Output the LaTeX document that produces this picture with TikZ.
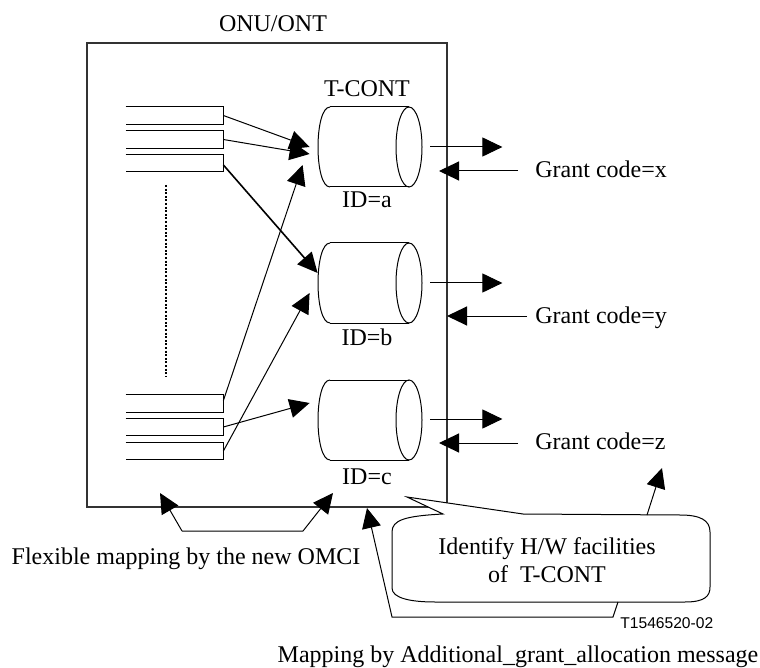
\documentclass[tikz,border=0pt]{standalone}
\usepackage{fontspec}
\setmainfont{Liberation Serif}
\newfontfamily\codesans{Liberation Sans}
\usetikzlibrary{arrows.meta,calc}
\newcommand\tcyl[2]{%
  \node[cylnode] (#1) at (370,#2) {};
  \draw[thinline] (330,#2-40) -- (409,#2-40);
  \draw[thinline] (330,#2+40) -- (409,#2+40);
  \draw[thinline] (330,#2-40) .. controls (314,#2-40) and (314,#2+40) .. (330,#2+40);
  \draw[thinline] (409,#2) ellipse [x radius=13, y radius=40];
}
\begin{document}
\begin{tikzpicture}[x=0.5pt,y=-0.5pt,
  font=\fontsize{12}{14}\selectfont,
  thinline/.style={line width=0.5pt},
  arr/.style={line width=0.5pt,-{Triangle[length=10pt,width=9.5pt]}},
  queue/.style={draw=none,inner sep=0,minimum width=48.5pt,minimum height=8.5pt},
  cylnode/.style={draw=none,inner sep=0,minimum width=52pt,minimum height=40pt},
  lbl/.style={inner sep=0}]
\useasboundingbox (0,0) rectangle (760,668);

% outer box
\node[draw=black!80, line width=0.6pt, minimum width=180pt, minimum height=232pt, inner sep=0] (onu) at (267,275) {};
\node[lbl, anchor=base] (onut) at (273,32) {ONU/ONT};

% queues
\node[queue] (q1) at (174.5,115.5) {};
\node[queue] (q2) at (174.5,139.5) {};
\node[queue] (q3) at (174.5,163) {};
\node[queue] (q4) at (174.5,403.5) {};
\node[queue] (q5) at (174.5,427) {};
\node[queue] (q6) at (174.5,451) {};
\foreach \q in {q1,q2,q3,q4,q5,q6}
  \draw[thinline] (\q.north west) -- (\q.north east) -- (\q.south east) -- (\q.south west);

% dotted line
\coordinate (d1) at (166,185);
\coordinate (d2) at (166,377);
\draw[line width=1pt, dash pattern=on 1pt off 0.8pt] (d1) -- (d2);

% T-CONT cylinders
\tcyl{cA}{147}
\tcyl{cB}{283}
\tcyl{cC}{420}
\node[lbl, anchor=base] (tc) at (367,97) {T-CONT};
\node[lbl, anchor=base] (ida) at (367,208) {ID=a};
\node[lbl, anchor=base] (idb) at (367,345) {ID=b};
\node[lbl, anchor=base] (idc) at (367,484) {ID=c};

% queue -> T-CONT arrows
\draw[arr] (q1.east) -- ($(cA.west)+(-8,0)$);
\draw[arr] (q2.east) -- ($(cA.west)+(-8,7)$);
\draw[arr, line width=0.8pt] ($(q3.east)+(0,2)$) -- ($(cB.west)+(0,-10)$);
\draw[arr] ($(q4.east)+(0,-3)$) -- ($(cA.west)+(-15,18)$);
\draw[arr] (q5.east) -- ($(cC.west)+(-8,-17)$);
\draw[arr] (q6.east) -- ($(cB.west)+(-8,10)$);

% outgoing arrows
\draw[arr] ($(cA.east)+(8,0)$) -- ++(72,0);
\draw[arr] ($(cB.east)+(8,0)$) -- ++(72,0);
\draw[arr] ($(cC.east)+(8,-1)$) -- ++(72,0);

% grant codes
\node[lbl, anchor=base west] (gx) at (535,178) {Grant code=x};
\node[lbl, anchor=base west] (gy) at (535,323) {Grant code=y};
\node[lbl, anchor=base west] (gz) at (535,449) {Grant code=z};
\draw[arr] ($(gx.base west)+(-17,-7)$) -- ++(-79,0);
\draw[arr] ($(gy.base west)+(-8,-7)$) -- ++(-80,0);
\draw[arr] ($(gz.base west)+(-17,-6)$) -- ++(-79,0);

% flexible mapping bracket
\coordinate (fb1) at (182,531);
\coordinate (fb2) at (303,531);
\coordinate (ft1) at (160,493);
\coordinate (ft2) at (333,493);
\draw[arr] (fb1) -- (ft1);
\draw[arr] (fb1) -- (fb2) -- (ft2);
\node[lbl, anchor=base] (flex) at (186,564) {Flexible mapping by the new OMCI};

% callout
\draw[thinline, fill=white] (443,514) .. controls (405,516) and (392,520) .. (392,532)
  -- (392,588) .. controls (392,598) and (410,602) .. (435,602)
  -- (685,602) .. controls (705,602) and (710,596) .. (710,587)
  -- (710,532) .. controls (710,520) and (700,515) .. (680,515)
  -- (523,514) -- (407,497) -- cycle;
\node[lbl, align=center] (idf) at (547,563) {\strut Identify H/W facilities\\\strut of\ \ T-CONT};
\coordinate (co1) at (647,515);
\coordinate (co2) at (662,468);
\draw[arr] (co1) -- (co2);

% mapping by additional grant allocation
\coordinate (m1) at (618,602);
\coordinate (m2) at (613,617);
\coordinate (m3) at (392,617);
\coordinate (m4) at (367,508);
\draw[arr] (m1) -- (m2) -- (m3) -- (m4);
\node[lbl, anchor=west, font=\codesans\fontsize{7.8}{9}\selectfont] (tref) at (620,623) {T1546520-02};
\node[lbl, anchor=base] (mapmsg) at (518,662) {Mapping by Additional\_grant\_allocation message};
\end{tikzpicture}
\end{document}
